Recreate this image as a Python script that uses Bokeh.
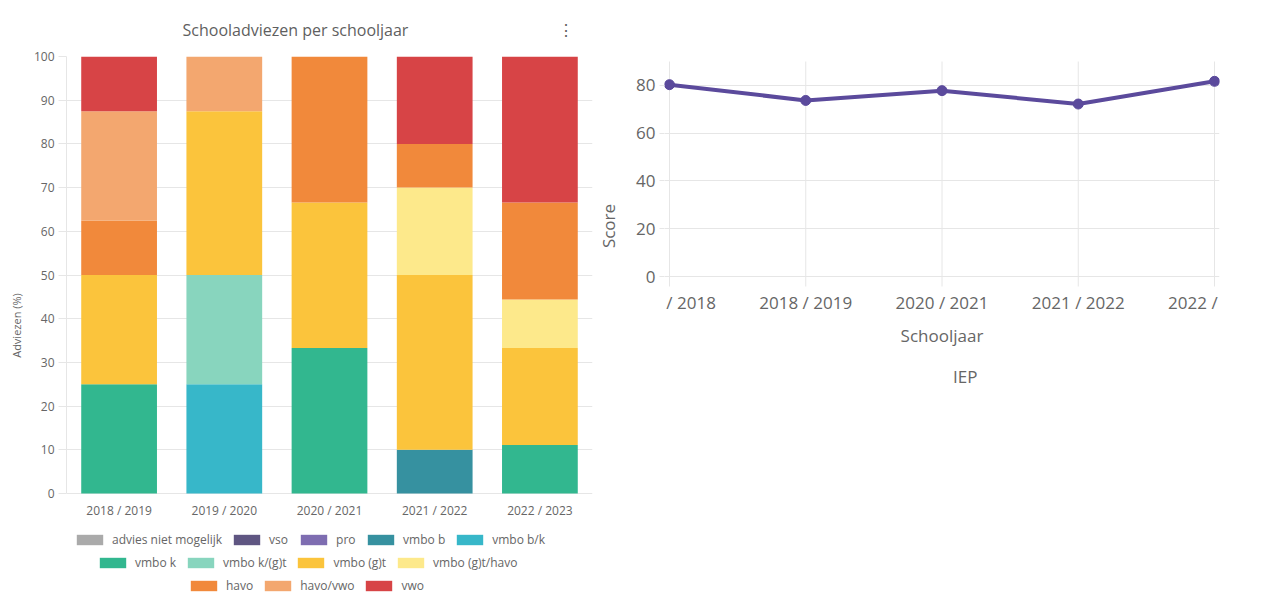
from bokeh.plotting import figure
from bokeh.models import (ColumnDataSource, Legend, LegendItem,
                          Range1d, FixedTicker)
from bokeh.core.properties import value
from bokeh.layouts import row
from bokeh.embed import file_html
from bokeh.resources import INLINE

# ---------------- data: left chart ----------------
years = ["2018 / 2019", "2019 / 2020", "2020 / 2021", "2021 / 2022", "2022 / 2023"]
categories = ["advies niet mogelijk", "vso", "pro", "vmbo b", "vmbo b/k", "vmbo k",
              "vmbo k/(g)t", "vmbo (g)t", "vmbo (g)t/havo", "havo", "havo/vwo", "vwo"]
colors = ["#aaaaaa", "#5f5682", "#7e6db1", "#3691a0", "#37b7c9", "#32b78f",
          "#88d5be", "#fbc43c", "#fde98b", "#f1893b", "#f3a76f", "#d74446"]

advies_niet_mogelijk = [0, 0, 0, 0, 0]
vso = [0, 0, 0, 0, 0]
pro = [0, 0, 0, 0, 0]
vmbo_b = [0, 0, 0, 10, 0]
vmbo_bk = [0, 25, 0, 0, 0]
vmbo_k = [25, 0, 33.3, 0, 11.1]
vmbo_kgt = [0, 25, 0, 0, 0]
vmbo_gt = [25, 37.5, 33.3, 40, 22.2]
vmbo_gt_havo = [0, 0, 0, 20, 11.1]
havo = [12.5, 0, 33.4, 10, 22.2]
havo_vwo = [25, 12.5, 0, 0, 0]
vwo = [12.5, 0, 0, 20, 33.4]

series = [advies_niet_mogelijk, vso, pro, vmbo_b, vmbo_bk, vmbo_k, vmbo_kgt,
          vmbo_gt, vmbo_gt_havo, havo, havo_vwo, vwo]

y_ticks_left = [0, 10, 20, 30, 40, 50, 60, 70, 80, 90, 100]
title_left = "Schooladviezen per schooljaar"

# ---------------- data: right chart ----------------
iep_years = ["2017 / 2018", "2018 / 2019", "2020 / 2021", "2021 / 2022", "2022 / 2023"]
iep_scores = [80.3, 73.7, 77.8, 72.2, 81.7]
y_ticks_right = [0, 20, 40, 60, 80]
y_max_right = 90

FONT = "Open Sans"
GREY = "#666666"
GRID = "#e6e6e6"
TOP = 56

# ================= left figure =================
# frame runs down to the bottom of the figure; the area below 0 holds the
# category labels and the legend
H1 = 594
Y0_PX_L, Y100_PX_L = 493, 56
y_min_left = -100 * (H1 - Y0_PX_L) / (Y0_PX_L - Y100_PX_L)

xi = list(range(len(years)))
src = {"x": xi}
for c, s in zip(categories, series):
    src[c] = s
source = ColumnDataSource(src)

p1 = figure(x_range=Range1d(-0.5, len(years) - 0.5),
            y_range=Range1d(y_min_left, 100),
            width=594, height=H1, output_backend="svg", toolbar_location=None,
            x_axis_location=None,
            min_border_left=66, min_border_right=2, min_border_top=TOP,
            min_border_bottom=0)
p1.outline_line_color = None
renderers = p1.vbar_stack(categories, x="x", width=0.72, color=colors,
                          line_color=None, source=source)

p1.title.text = title_left + "\u00a0" * 36 + "\u22ee"
p1.title.align = "left"
p1.title.offset = 116
p1.title.standoff = 32
p1.title.text_font = FONT
p1.title.text_font_size = "16px"
p1.title.text_font_style = "normal"
p1.title.text_color = "#5f5f5f"

ticker_l = FixedTicker(ticks=y_ticks_left)
p1.yaxis.ticker = ticker_l
p1.ygrid.ticker = ticker_l
p1.xgrid.grid_line_color = None
p1.ygrid.grid_line_color = GRID
p1.yaxis.bounds = (0, 100)
p1.yaxis.axis_line_color = GRID
p1.yaxis.major_tick_out = 8
p1.yaxis.major_tick_in = 0
p1.yaxis.major_tick_line_color = GRID
p1.yaxis.minor_tick_line_color = None
p1.yaxis.minor_tick_out = 0
p1.yaxis.major_label_standoff = 4
p1.yaxis.major_label_text_font = FONT
p1.yaxis.major_label_text_font_size = "12px"
p1.yaxis.major_label_text_color = GREY
p1.yaxis.axis_label = "Adviezen (%)"
p1.yaxis.axis_label_standoff = 7
p1.yaxis.axis_label_text_font = FONT
p1.yaxis.axis_label_text_font_size = "11px"
p1.yaxis.axis_label_text_font_style = "normal"
p1.yaxis.axis_label_text_color = GREY

lab_src = ColumnDataSource({"x": xi, "y": [0 for _ in xi], "lab": years})
p1.text(x="x", y="y", text="lab", source=lab_src, y_offset=17,
        text_align="center", text_baseline="middle",
        text_font=value(FONT), text_font_size=value("12px"), text_color=GREY)

rows_idx = [range(0, 5), range(5, 9), range(9, 12)]
row_loc = [(7, 46), (30, 23), (121, 0)]
for idx, loc in zip(rows_idx, row_loc):
    items = [LegendItem(label=categories[i], renderers=[renderers[i]]) for i in idx]
    p1.add_layout(Legend(items=items, location=loc, orientation="horizontal",
                         glyph_width=33, glyph_height=13, label_height=13,
                         label_standoff=6, spacing=8, padding=0, margin=0,
                         border_line_color=None, background_fill_alpha=0,
                         label_text_font=FONT, label_text_font_size="12px",
                         label_text_color=GREY))

# ================= right figure =================
H2 = 395
Y0_PX_R, Y90_PX_R = 276, 61
px_per_unit = (Y0_PX_R - Y90_PX_R) / y_max_right
y_end = y_max_right + (Y90_PX_R - TOP) / px_per_unit
y_min_right = -(H2 - Y0_PX_R) / px_per_unit
x_pad = 5 / 137

xpos = list(range(len(iep_years)))
src2 = ColumnDataSource({"x": xpos, "score": iep_scores})

p2 = figure(x_range=Range1d(-x_pad, len(iep_years) - 1 + x_pad),
            y_range=Range1d(y_min_right, y_end),
            width=674, height=H2, output_backend="svg", toolbar_location=None,
            x_axis_location=None,
            min_border_left=67, min_border_right=49, min_border_top=TOP,
            min_border_bottom=0)
p2.outline_line_color = None
p2.xgrid.grid_line_color = None

# vertical grid lines from the tick below 0 up to 90
grid_src = ColumnDataSource({"x": xpos, "y0": [-10 / px_per_unit for _ in xpos],
                             "y1": [y_max_right for _ in xpos]})
p2.segment(x0="x", y0="y0", x1="x", y1="y1", source=grid_src,
           line_color=GRID, line_width=1)

LINE = "#5b4a9c"
p2.line("x", "score", source=src2, line_width=4, line_color=LINE)
p2.scatter("x", "score", source=src2, size=10, fill_color=LINE, line_color=LINE)
dummy = p2.quad(left=[], right=[], top=[], bottom=[], fill_color=LINE,
                line_color="#a397cf", line_width=1)

yt = FixedTicker(ticks=y_ticks_right)
p2.yaxis.ticker = yt
p2.ygrid.ticker = yt
p2.ygrid.grid_line_color = GRID
p2.yaxis.bounds = (0, y_end)
p2.yaxis.axis_line_color = None
p2.yaxis.major_tick_out = 5
p2.yaxis.major_tick_in = 0
p2.yaxis.major_tick_line_color = GRID
p2.yaxis.minor_tick_line_color = None
p2.yaxis.minor_tick_out = 0
p2.yaxis.major_label_standoff = 4
p2.yaxis.major_label_text_font = FONT
p2.yaxis.major_label_text_font_size = "17px"
p2.yaxis.major_label_text_color = GREY
p2.yaxis.axis_label = "Score"
p2.yaxis.axis_label_standoff = 13
p2.yaxis.axis_label_text_font = FONT
p2.yaxis.axis_label_text_font_size = "17px"
p2.yaxis.axis_label_text_font_style = "normal"
p2.yaxis.axis_label_text_color = GREY

lab2 = ColumnDataSource({"x": xpos, "y": [0 for _ in xpos], "lab": iep_years})
p2.text(x="x", y="y", text="lab", source=lab2, y_offset=26,
        text_align="center", text_baseline="middle",
        text_font=value(FONT), text_font_size=value("17px"), text_color=GREY)
ttl = ColumnDataSource({"x": [(xpos[0] + xpos[-1]) / 2], "y": [0],
                        "lab": ["Schooljaar"]})
p2.text(x="x", y="y", text="lab", source=ttl, y_offset=59,
        text_align="center", text_baseline="middle",
        text_font=value(FONT), text_font_size=value("17px"), text_color=GREY)

p2.add_layout(Legend(items=[LegendItem(label="IEP", renderers=[dummy])],
                     location=(221, 7), orientation="horizontal",
                     glyph_width=60, glyph_height=23, label_height=23,
                     label_standoff=8, spacing=11, padding=0, margin=0,
                     border_line_color=None, background_fill_alpha=0,
                     label_text_font=FONT, label_text_font_size="17px",
                     label_text_color=GREY))

layout = row(p1, p2)
open("out.html", "w").write(file_html(layout, INLINE))
